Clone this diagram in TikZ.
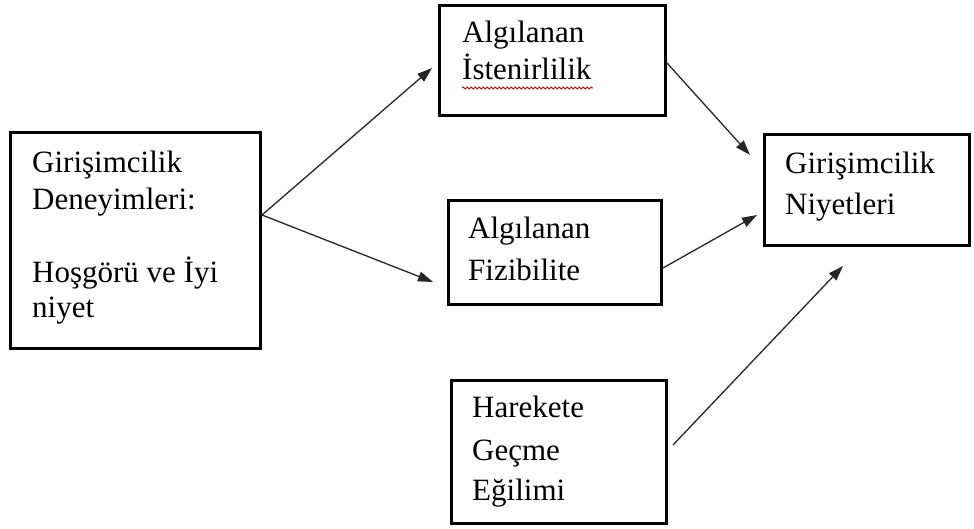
\documentclass[tikz,border=0pt]{standalone}
\usepackage{fontspec}
\setmainfont{Liberation Serif}
\usetikzlibrary{arrows.meta,decorations.pathmorphing}
\begin{document}
\begin{tikzpicture}[x=1pt,y=-1pt,
  box/.style={draw=black, line width=3.3pt, inner sep=0pt, rectangle},
  txt/.style={anchor=base west, inner sep=0pt, font=\fontsize{31}{37}\selectfont},
  conn/.style={draw=black!85, line width=1.3pt, -{Triangle[length=15pt,width=10pt]}}]
\useasboundingbox (0,0) rectangle (974,529);

% boxes
\node[box, minimum width=249.7pt, minimum height=215.7pt] (b1) at (135.5,240.5) {};
\node[box, minimum width=225.7pt, minimum height=109.7pt] (b2) at (552.5,60.5) {};
\node[box, minimum width=212.7pt, minimum height=103.7pt] (b3) at (555,252.5) {};
\node[box, minimum width=214.7pt, minimum height=142.7pt] (b4) at (559,452) {};
\node[box, minimum width=204.7pt, minimum height=110.7pt] (b5) at (867,190) {};

% texts
\node[txt] (l11) at (32,173) {Girişimcilik};
\node[txt] (l12) at (32,210) {Deneyimleri:};
\node[txt] (l13) at (32,283) {Hoşgörü ve İyi};
\node[txt] (l14) at (32,317) {niyet};

\node[txt] (l21) at (462,43) {Algılanan};
\node[txt] (l22) at (462,80) {İstenirlilik};
\draw[red!80!black, line width=0.8pt, decorate, decoration={snake, amplitude=1pt, segment length=4pt}] (462,88) -- (593,88);

\node[txt] (l31) at (468,239) {Algılanan};
\node[txt] (l32) at (468,280) {Fizibilite};

\node[txt] (l41) at (472,417) {Harekete};
\node[txt] (l42) at (472,460) {Geçme};
\node[txt] (l43) at (472,500) {Eğilimi};

\node[txt] (l51) at (785,174) {Girişimcilik};
\node[txt] (l52) at (785,215) {Niyetleri};

% arrow tips
\coordinate (t1) at (432,68);
\coordinate (t2) at (433,282);
\coordinate (t3) at (750,155);
\coordinate (t4) at (757,215);
\coordinate (t5) at (843,266);

\draw[conn] ([yshift=25.5pt]b1.east) -- (t1);
\draw[conn] ([yshift=25.5pt]b1.east) -- (t2);
\draw[conn] ([yshift=-2.5pt]b2.east) -- (t3);
\draw[conn] ([yshift=-15.5pt]b3.east) -- (t4);
\draw[conn] ([xshift=5pt,yshift=7pt]b4.east) -- (t5);
\end{tikzpicture}
\end{document}
